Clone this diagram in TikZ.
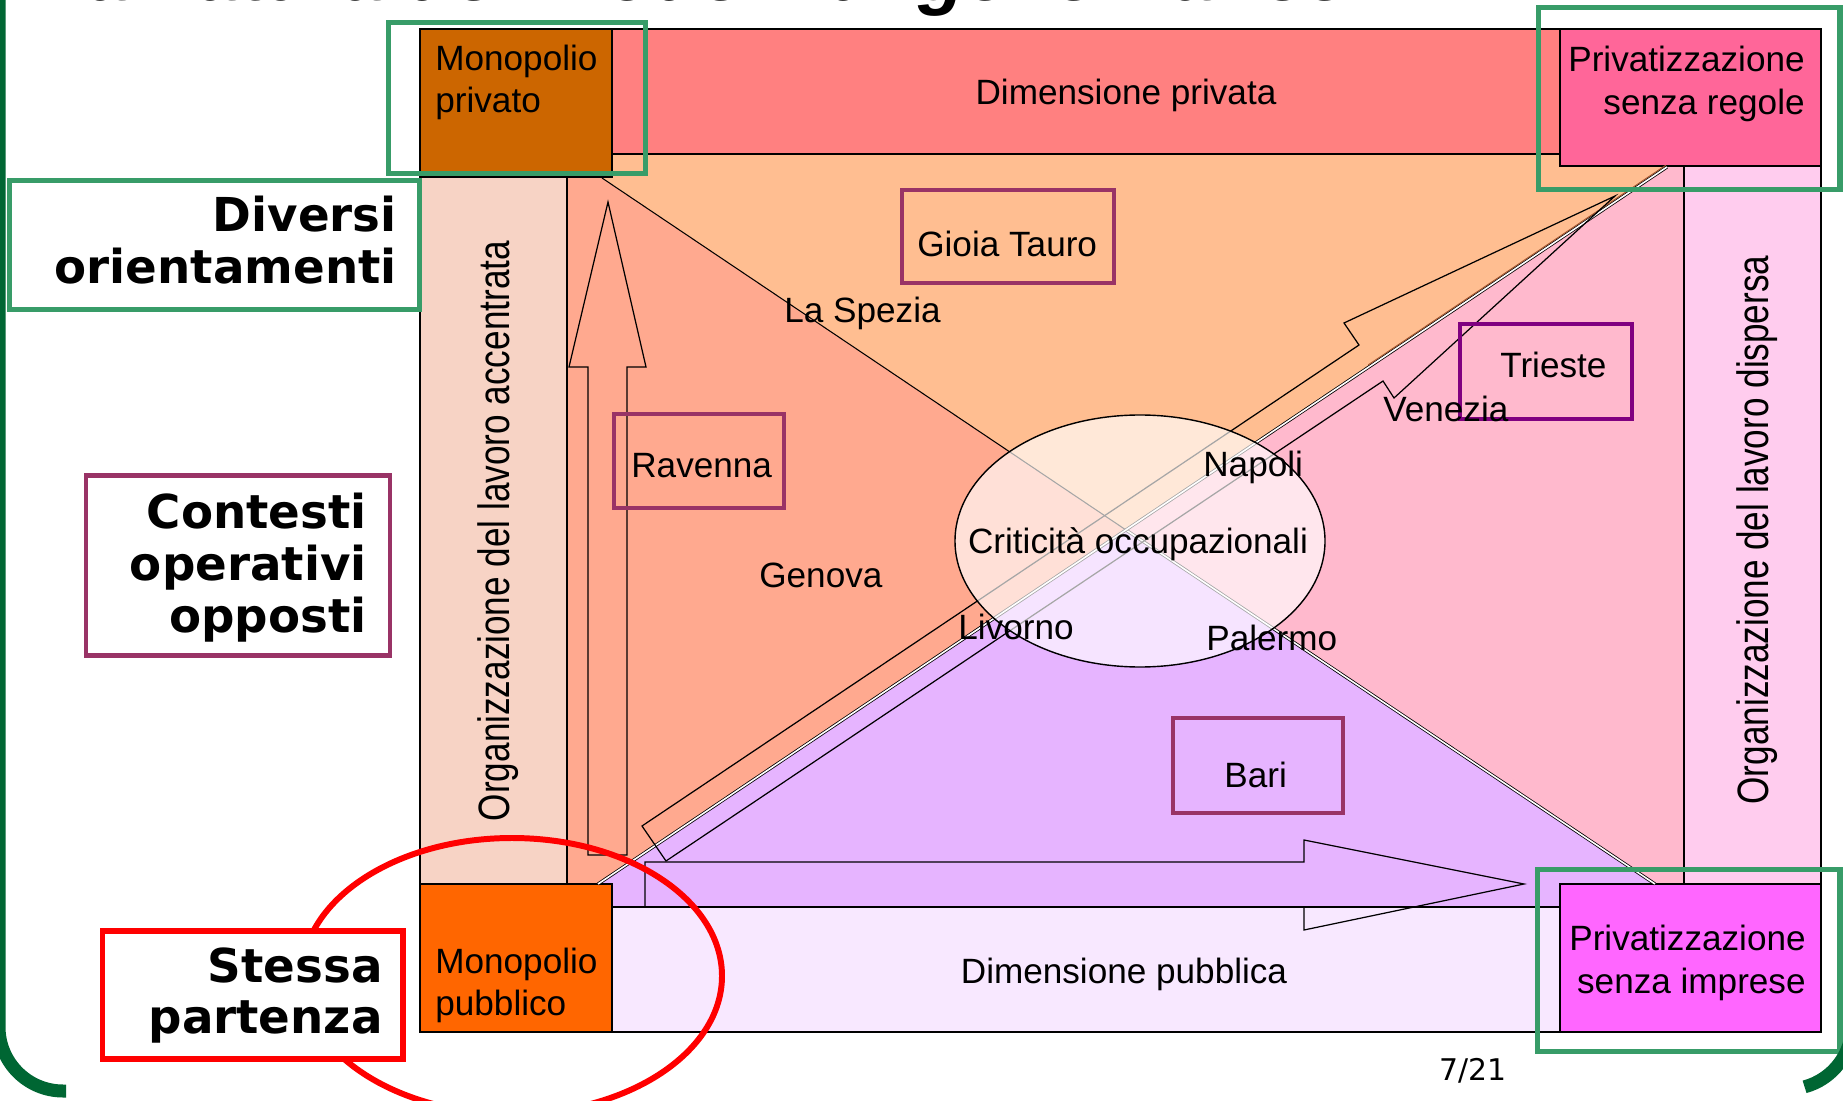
\documentclass[tikz,border=0pt]{standalone}
\usepackage{fontspec}
\setmainfont{Liberation Sans}
\newfontfamily\dvs{DejaVu Sans}
\usepackage{graphicx}
\usetikzlibrary{calc}
\definecolor{topbar}{HTML}{FF8080}
\definecolor{monpriv}{HTML}{CC6600}
\definecolor{privreg}{HTML}{FF6699}
\definecolor{leftcol}{HTML}{F7D3C5}
\definecolor{rightcol}{HTML}{FFCCEE}
\definecolor{lefttri}{HTML}{FFA98F}
\definecolor{toptri}{HTML}{FFBE91}
\definecolor{righttri}{HTML}{FFB9CD}
\definecolor{bottri}{HTML}{E6B4FF}
\definecolor{botbar}{HTML}{F8E8FF}
\definecolor{monpub}{HTML}{FF6600}
\definecolor{privimp}{HTML}{FF66FF}
\definecolor{frgreen}{HTML}{389C68}
\definecolor{plum}{HTML}{993366}
\definecolor{trpurple}{HTML}{800080}
\definecolor{slidegreen}{HTML}{006633}
\definecolor{diagbrown}{HTML}{A0522D}
\begin{document}
\begin{tikzpicture}[x=0.02cm,y=-0.02cm,
  txt/.style={inner sep=0pt, font=\fontsize{20}{24}\selectfont},
  blab/.style={inner sep=0pt, font=\dvs\bfseries\fontsize{26.6}{30}\selectfont},
  rottxt/.style={inner sep=0pt, font=\fontsize{25}{30}\selectfont, rotate=90, anchor=base},
  edgeline/.style={draw=black, line width=0.8pt},
  gframe/.style={draw=frgreen, line width=3.1pt},
  cbox/.style={draw=plum, line width=2.8pt},
  outl/.style={draw=black, line width=0.7pt, line join=miter},
  dbl/.style={draw=black, line width=0.45pt, double=white, double distance=0.9pt},
]
\useasboundingbox (0,0) rectangle (1843,1101);
\fill[white] (0,0) rectangle (1843,1101);

% key points
\coordinate (P1) at (602,178);
\coordinate (P2) at (1655,884);
\coordinate (Q1) at (598,884);
\coordinate (Q2) at (1667,167);
\coordinate (C) at (1126,530);

% four triangular regions
\fill[lefttri] (567,177) -- (602,177) -- (C) -- (Q1) -- (567,884) -- cycle;
\fill[toptri] (602,154) -- (1667,154) -- (Q2) -- (C) -- (P1) -- cycle;
\fill[righttri] (1667,154) -- (1684,154) -- (1684,884) -- (P2) -- (C) -- (Q2) -- cycle;
\fill[bottri] (Q1) -- (C) -- (P2) -- (1684,884) -- (1684,907) -- (612,907) -- (612,884) -- cycle;

% side columns
\path[fill=leftcol, edgeline] (420,177) rectangle (567,884);
\path[fill=rightcol, edgeline] (1684,166) rectangle (1821,884);

% top and bottom bars
\path[fill=topbar, edgeline] (420,29) rectangle (1821,154);
\path[fill=botbar, edgeline] (612,907) rectangle (1821,1032);

% corner boxes
\path[fill=monpriv, edgeline] (420,29) rectangle (612,177);
\path[fill=privreg, edgeline] (1560,29) rectangle (1821,166);
\path[fill=monpub, edgeline] (420,884) rectangle (612,1032);
\path[fill=privimp, edgeline] (1560,884) rectangle (1821,1032);

% diagonals
\draw[edgeline, line width=0.6pt] (P1) -- (C);
\draw[dbl] (C) -- (P2);
\draw[dbl] (Q1) -- (Q2);
\coordinate (B1) at ($(C)!0.45!(Q2)+(-1.2,-1.8)$);
\coordinate (B2) at ($(Q2)+(-1.2,-1.8)$);
\draw[diagbrown, line width=0.5pt] (B1) -- (B2);

% long diagonal arrow
\draw[outl] (642,826) -- (1359,345) -- (1344,323) -- (1615,196) -- (1394,398) -- (1383,381) -- (666,861) -- cycle;
% vertical arrow
\draw[outl] (588,855) -- (588,367) -- (569,367) -- (608,202) -- (646,367) -- (627,367) -- (627,855) -- cycle;
% horizontal arrow
\draw[outl] (645,906) -- (645,862) -- (1304,862) -- (1304,840) -- (1524,884) -- (1304,930) -- (1304,906);

% central ellipse
\path[fill=white, fill opacity=0.65, draw=black, line width=0.8pt] (1140,541) ellipse [x radius=185, y radius=126];

% texts in boxes
\node[txt, anchor=base west] (mp1) at (435,71) {Monopolio};
\node[txt, anchor=base west] (mp2) at (435,113) {privato};
\node[txt, anchor=base] (dpriv) at (1126,105) {Dimensione privata};
\node[txt, anchor=base east] (pr1) at (1805,72) {Privatizzazione};
\node[txt, anchor=base east] (pr2) at (1805,115) {senza regole};
\node[txt, anchor=base west] (mb1) at (435,973) {Monopolio};
\node[txt, anchor=base west] (mb2) at (435,1015) {pubblico};
\node[txt, anchor=base] (dpub) at (1124,983) {Dimensione pubblica};
\node[txt, anchor=base east] (pi1) at (1806,950) {Privatizzazione};
\node[txt, anchor=base east] (pi2) at (1806,993) {senza imprese};

\node[rottxt] (orgacc) at (509,531) {\scalebox{0.8}[1]{Organizzazione del lavoro accentrata}};
\node[rottxt] (orgdis) at (1768,530) {\scalebox{0.8}[1]{Organizzazione del lavoro dispersa}};

% cities
\draw[cbox] (902,190) rectangle (1114,283);
\node[txt, anchor=base west] (gioia) at (917,257) {Gioia Tauro};
\node[txt, anchor=base west] (spezia) at (784,323) {La Spezia};
\draw[cbox] (614,414) rectangle (784,508);
\node[txt, anchor=base west] (ravenna) at (631,478) {Ravenna};
\node[txt, anchor=base west] (genova) at (759,587) {Genova};
\node[txt, anchor=base west] (napoli) at (1203,477) {Napoli};
\node[txt, anchor=base] (crit) at (1138,553) {Criticità occupazionali};
\node[txt, anchor=base west] (livorno) at (958,639) {Livorno};
\node[txt, anchor=base west] (palermo) at (1206,650) {Palermo};
\draw[draw=trpurple, line width=2.8pt] (1460,324) rectangle (1632,419);
\node[txt, anchor=base west] (trieste) at (1500,378) {Trieste};
\node[txt, anchor=base west] (venezia) at (1383,422) {Venezia};
\draw[cbox] (1173,718) rectangle (1343,813);
\node[txt, anchor=base west] (bari) at (1224,787) {Bari};

% green frames
\draw[gframe] (388.7,22.5) rectangle (645.3,173.5);
\draw[gframe] (1538.7,7.3) rectangle (1840,189.5);
\draw[gframe] (1537.7,869.7) rectangle (1840,1051.3);

% left labels
\path[fill=white, draw=frgreen, line width=2.8pt] (9.5,180.5) rectangle (419.5,309.5);
\node[blab, anchor=base east] (div1) at (397,232) {Diversi};
\node[blab, anchor=base east] (div2) at (397,284) {orientamenti};
\path[fill=white, draw=plum, line width=2.8pt] (86,475.5) rectangle (390,655.5);
\node[blab, anchor=base east] (con1) at (367,528) {Contesti};
\node[blab, anchor=base east] (con2) at (367,580) {operativi};
\node[blab, anchor=base east] (con3) at (367,632) {opposti};

% red ellipse and start label
\draw[red, line width=3.4pt] (512,976) ellipse [x radius=210, y radius=138];
\path[fill=white, draw=red, line width=3.3pt] (102.5,930.7) rectangle (403,1058.7);
\node[blab, anchor=base east] (st1) at (383,982) {Stessa};
\node[blab, anchor=base east] (st2) at (383,1033) {partenza};

% title (cut by the top edge, as in the slide) and page number
\node[inner sep=0pt, anchor=base west, font=\bfseries\itshape\fontsize{43.6}{50}\selectfont] (title) at (41,1) {La natura dei modelli di governance};
\node[inner sep=0pt, anchor=base west, font=\dvs\fontsize{17}{20}\selectfont] (page) at (1439,1080) {7/21};

% slide frame
\draw[slidegreen, line width=7.4pt] (-1,-10) -- (-1,1027) arc[start angle=180, end angle=90, radius=64] -- (66,1091);
\draw[slidegreen, line width=7.4pt] (1852,880) -- (1852,1025) arc[start angle=0, end angle=75, radius=64];
\end{tikzpicture}
\end{document}
